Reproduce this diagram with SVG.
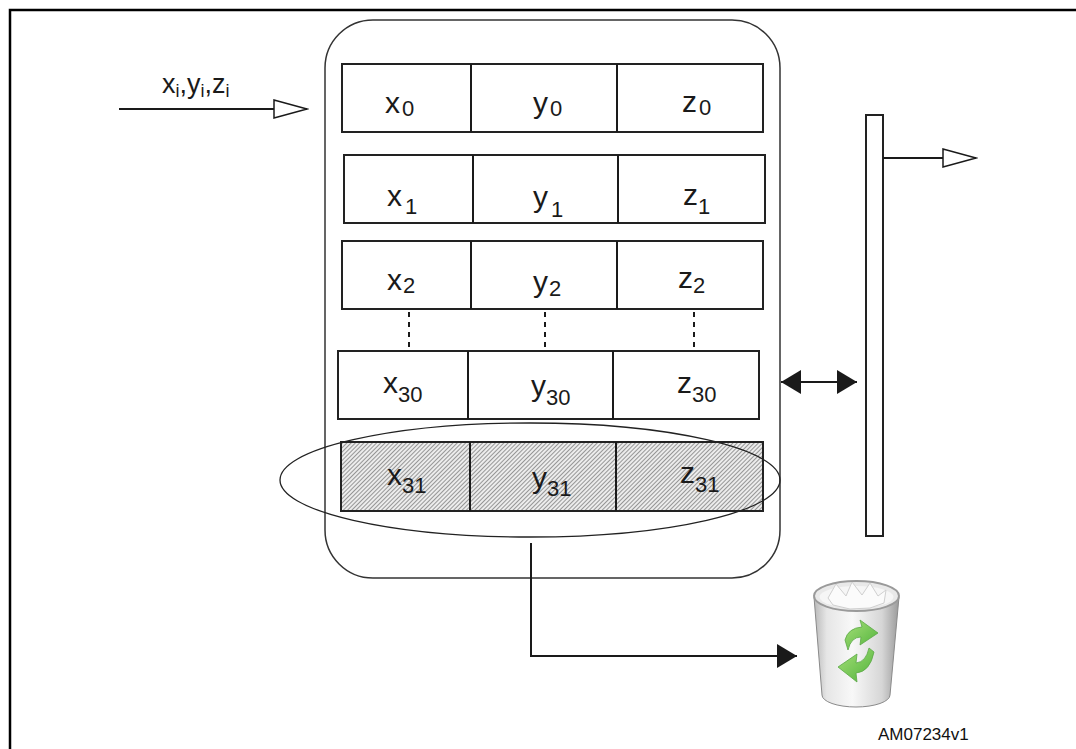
<svg xmlns="http://www.w3.org/2000/svg" width="1076" height="749" viewBox="0 0 1076 749">
<style>
.cell{fill:#fff;stroke:#222;stroke-width:2}
.hcell{fill:url(#hatch);stroke:#222;stroke-width:2}
.lbl{font-family:"Liberation Sans",Arial,sans-serif;font-size:30px;fill:#1a1a1a}
.sub{font-size:22px}
.ln{fill:none;stroke:#1a1a1a;stroke-width:2}
.dot{fill:none;stroke:#1a1a1a;stroke-width:2;stroke-dasharray:5,5}
</style>
<defs>
<pattern id="hatch" width="3" height="3" patternUnits="userSpaceOnUse" patternTransform="rotate(45)">
<rect width="3" height="3" fill="#ececec"/>
<line x1="0.5" y1="0" x2="0.5" y2="3" stroke="#8c8c8c" stroke-width="0.9"/>
</pattern>
<marker id="open" markerWidth="36" markerHeight="22" refX="34" refY="10" orient="auto" markerUnits="userSpaceOnUse">
<path d="M1,1 L34,10 L1,19 Z" fill="#fff" stroke="#1a1a1a" stroke-width="1.5"/>
</marker>
<marker id="solid" markerWidth="22" markerHeight="26" refX="20" refY="12" orient="auto-start-reverse" markerUnits="userSpaceOnUse">
<path d="M0,0 L20,12 L0,24 Z" fill="#1a1a1a"/>
</marker>
<linearGradient id="can" x1="0" y1="0" x2="1" y2="0">
<stop offset="0" stop-color="#b8b8b8"/>
<stop offset="0.15" stop-color="#e6e6e6"/>
<stop offset="0.45" stop-color="#f8f8f8"/>
<stop offset="0.8" stop-color="#d6d6d6"/>
<stop offset="1" stop-color="#9a9a9a"/>
</linearGradient>
<linearGradient id="grn" x1="0" y1="0" x2="1" y2="1">
<stop offset="0" stop-color="#a8e07a"/>
<stop offset="1" stop-color="#4fb23a"/>
</linearGradient>
</defs>

<rect x="10" y="10" width="1072" height="760" fill="#fff" stroke="#000" stroke-width="2.5"/>

<g id="container">
<rect x="325" y="20" width="455" height="558" rx="48" ry="48" fill="none" stroke="#333" stroke-width="1.5"/>
</g>

<g id="row0">
<rect class="cell" x="342" y="64" width="421" height="68"/>
<line class="ln" x1="471" y1="64" x2="471" y2="132"/>
<line class="ln" x1="617" y1="64" x2="617" y2="132"/>
<text class="lbl" x="385" y="113">x<tspan class="sub" dx="2" dy="3">0</tspan></text>
<text class="lbl" x="533" y="113">y<tspan class="sub" dx="2" dy="3">0</tspan></text>
<text class="lbl" x="682" y="112">z<tspan class="sub" dx="2" dy="3">0</tspan></text>
</g>

<g id="row1">
<rect class="cell" x="344" y="155" width="421" height="68"/>
<line class="ln" x1="473" y1="155" x2="473" y2="223"/>
<line class="ln" x1="618" y1="155" x2="618" y2="223"/>
<text class="lbl" x="387" y="206">x<tspan class="sub" dx="3" dy="8">1</tspan></text>
<text class="lbl" x="533" y="207">y<tspan class="sub" dx="3" dy="10">1</tspan></text>
<text class="lbl" x="683" y="205">z<tspan class="sub" dy="9">1</tspan></text>
</g>

<g id="row2">
<rect class="cell" x="342" y="241" width="421" height="68"/>
<line class="ln" x1="471" y1="241" x2="471" y2="309"/>
<line class="ln" x1="617" y1="241" x2="617" y2="309"/>
<text class="lbl" x="387" y="290">x<tspan class="sub" dx="1" dy="3">2</tspan></text>
<text class="lbl" x="533" y="292">y<tspan class="sub" dx="1" dy="4">2</tspan></text>
<text class="lbl" x="678" y="288">z<tspan class="sub" dy="5">2</tspan></text>
</g>

<g id="row30">
<rect class="cell" x="338" y="351" width="421" height="68"/>
<line class="ln" x1="468" y1="351" x2="468" y2="419"/>
<line class="ln" x1="613" y1="351" x2="613" y2="419"/>
<text class="lbl" x="383" y="393">x<tspan class="sub" dy="9">30</tspan></text>
<text class="lbl" x="531" y="396">y<tspan class="sub" dy="9">30</tspan></text>
<text class="lbl" x="677" y="393">z<tspan class="sub" dy="9">30</tspan></text>
</g>

<g id="row31">
<rect class="hcell" x="341" y="442" width="422" height="69"/>
<line class="ln" x1="470" y1="442" x2="470" y2="511"/>
<line class="ln" x1="616" y1="442" x2="616" y2="511"/>
<text class="lbl" x="387" y="485">x<tspan class="sub" dy="8">31</tspan></text>
<text class="lbl" x="532" y="488">y<tspan class="sub" dy="8">31</tspan></text>
<text class="lbl" x="680" y="483">z<tspan class="sub" dy="9">31</tspan></text>
</g>

<g id="selection">
<ellipse cx="530" cy="480" rx="250" ry="57" fill="none" stroke="#222" stroke-width="1.3"/>
</g>

<g id="bus">
<rect x="866" y="115" width="17" height="421" fill="#fff" stroke="#222" stroke-width="2"/>
</g>

<g id="input-label">
<text class="lbl" x="162" y="93" style="font-size:27px">x<tspan style="font-size:18px" dy="4">i</tspan><tspan dy="-4">,y</tspan><tspan style="font-size:18px" dy="4">i</tspan><tspan dy="-4">,z</tspan><tspan style="font-size:18px" dy="4">i</tspan></text>
</g>

<g id="trash">
<path d="M814,597 L822,695 A34,12 0 0 0 890,695 L899,597 Z" fill="url(#can)" stroke="#8a8a8a" stroke-width="1"/>
<ellipse cx="856.5" cy="596" rx="42.5" ry="15" fill="#e9e9e9" stroke="#9a9a9a" stroke-width="2"/>
<ellipse cx="856.5" cy="597" rx="37" ry="11" fill="#f6f6f6"/>
<path d="M828,598 L836,584 L846,596 L852,582 L862,595 L870,583 L878,596 L886,590 L884,603 L870,608 L850,609 L833,605 Z" fill="#fbfbfb" stroke="#d0d0d0" stroke-width="1"/>
<path d="M845,640 Q848,628 862,627 L860,620 L878,633 L860,645 L861,637 Q851,637 848,650 Z" fill="url(#grn)" stroke="#5aa845" stroke-width="0.8"/>
<path d="M874,652 Q870,672 856,673 L857,682 L838,667 L857,654 L856,663 Q866,662 869,648 Z" fill="url(#grn)" stroke="#5aa845" stroke-width="0.8"/>
</g>

<g id="connectors">
<line class="ln" x1="119" y1="109" x2="307" y2="109" marker-end="url(#open)"/>
<line class="ln" x1="883" y1="158" x2="976" y2="158" marker-end="url(#open)"/>
<line class="ln" x1="781" y1="382" x2="857" y2="382" marker-start="url(#solid)" marker-end="url(#solid)"/>
<polyline class="ln" points="531,543 531,656 797,656" marker-end="url(#solid)"/>
<line class="dot" x1="409" y1="312" x2="409" y2="349"/>
<line class="dot" x1="545" y1="312" x2="545" y2="349"/>
<line class="dot" x1="694" y1="312" x2="694" y2="349"/>
</g>

<text x="878" y="740" style="font-family:'Liberation Sans',Arial,sans-serif;font-size:17px;fill:#111">AM07234v1</text>
</svg>
